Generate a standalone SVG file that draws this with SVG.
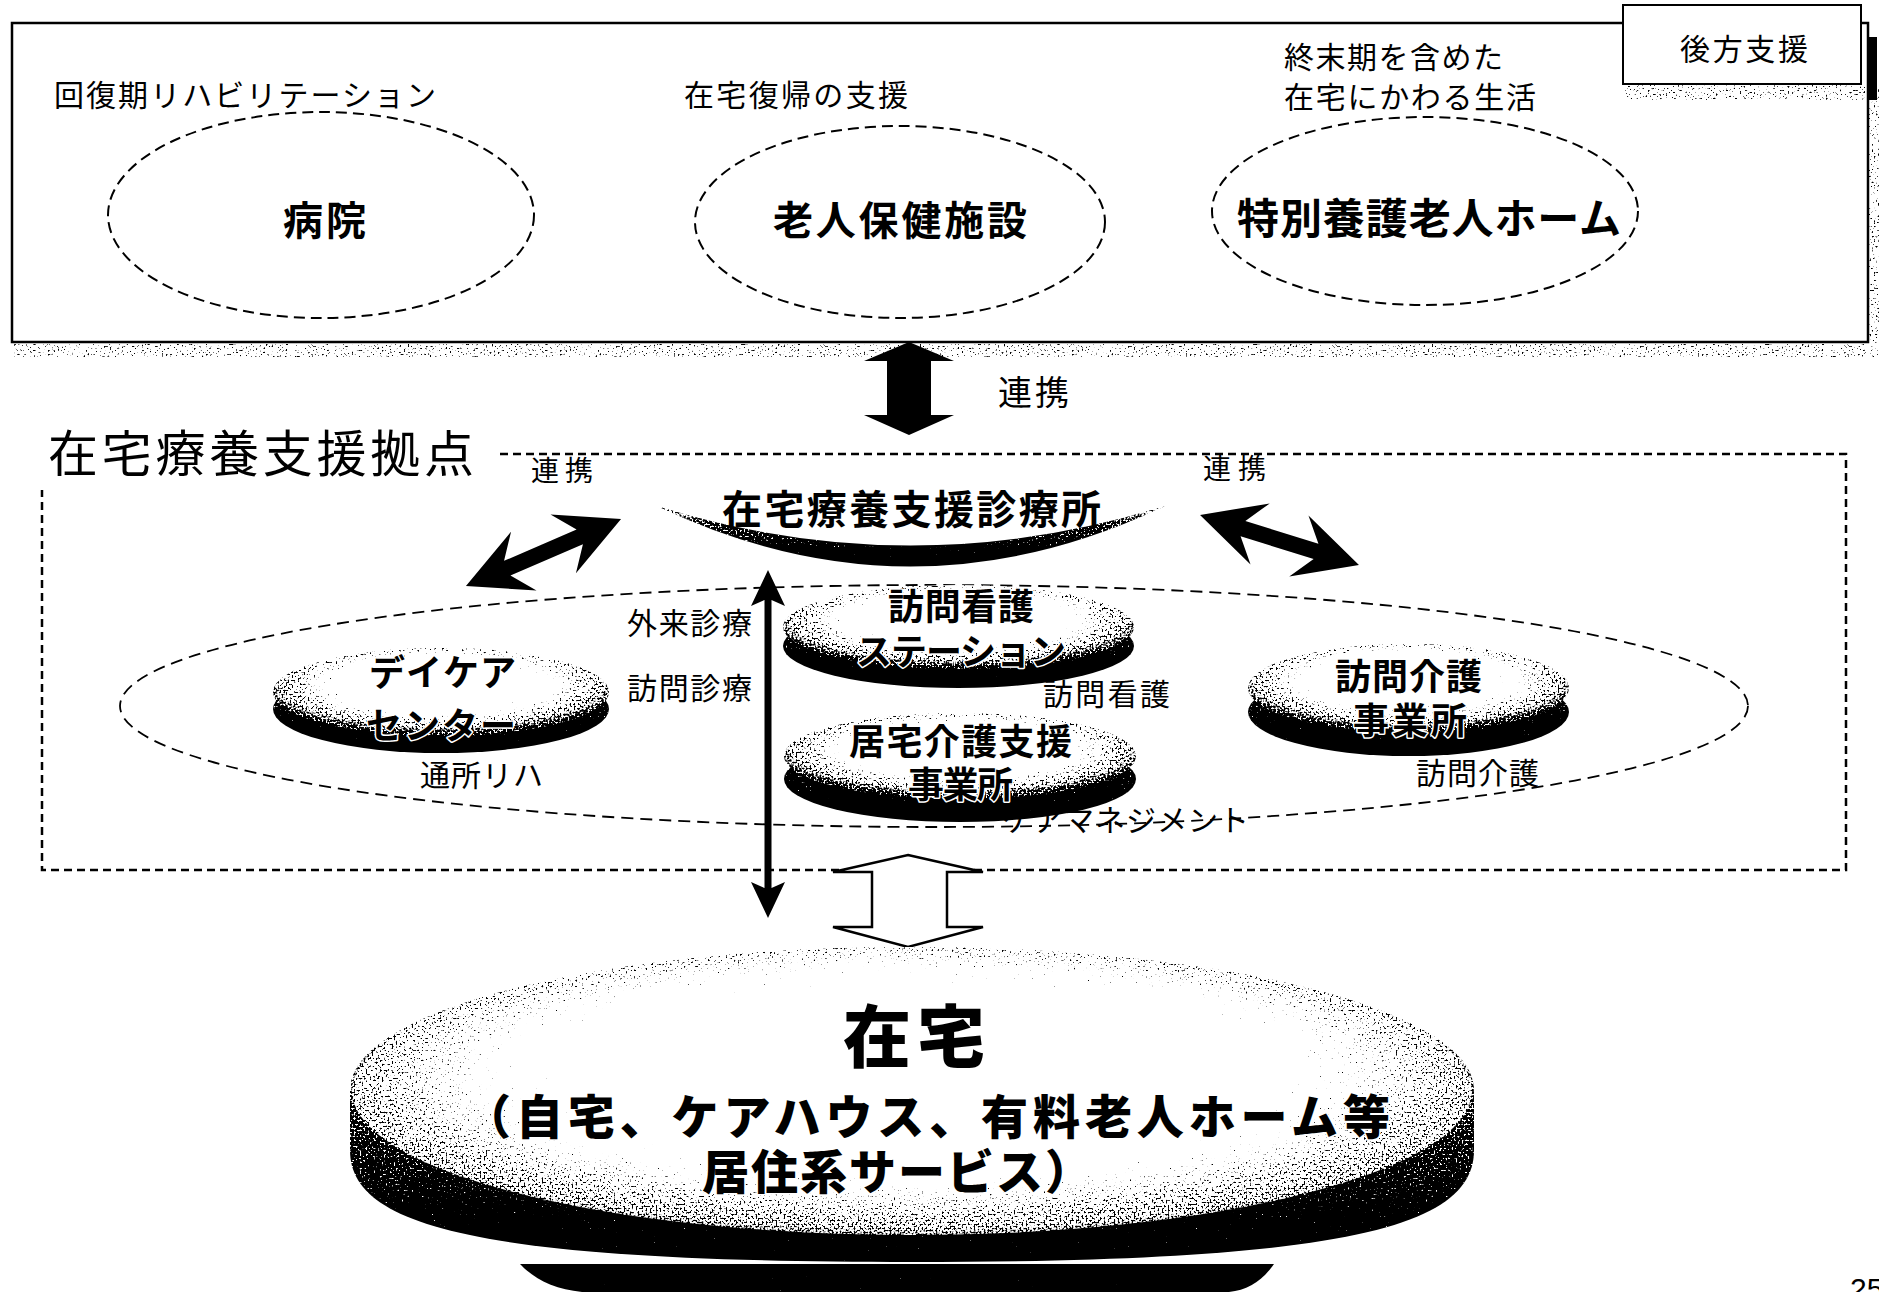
<svg xmlns="http://www.w3.org/2000/svg" width="1879" height="1292" viewBox="0 0 1879 1292">
<defs>
<style>
.t{font-family:"Noto Sans CJK JP","Noto Sans CJK SC",sans-serif;fill:#000}
.r{font-weight:400}
.b{font-weight:700}
.k{font-weight:900}
.halo{stroke:#fff;stroke-width:3;paint-order:stroke;stroke-linejoin:round}
.dash{fill:none;stroke:#000;stroke-width:2;stroke-dasharray:11 6}
.frame{fill:none;stroke:#000;stroke-width:2.5;stroke-dasharray:8 5}
.solid{fill:#000;stroke:none}
.shade{fill:#a5a5a5}
</style>
<filter id="speck" color-interpolation-filters="sRGB" x="-2%" y="-2%" width="104%" height="104%">
<feTurbulence type="fractalNoise" baseFrequency="0.5" numOctaves="2" seed="5" result="noise"/>
<feColorMatrix in="noise" type="matrix" values="1 0 0 0 0 1 0 0 0 0 1 0 0 0 0 0 0 0 0 1" result="n"/>
<feColorMatrix in="SourceGraphic" type="matrix" values="1 0 0 0 0 0 1 0 0 0 0 0 1 0 0 0 0 0 0 1" result="s"/>
<feComposite in="s" in2="n" operator="arithmetic" k1="0" k2="12" k3="-12" k4="1" result="th"/>
<feComposite in="th" in2="SourceAlpha" operator="in"/>
</filter>
<radialGradient id="pillTop" cx="0.5" cy="0.42" r="0.6">
<stop offset="0" stop-color="#fff"/>
<stop offset="0.35" stop-color="#f0f0f0"/>
<stop offset="0.7" stop-color="#9c9c9c"/>
<stop offset="1" stop-color="#4a4a4a"/>
</radialGradient>
<linearGradient id="pillSide" x1="0" y1="0" x2="0" y2="1">
<stop offset="0" stop-color="#666"/>
<stop offset="1" stop-color="#0a0a0a"/>
</linearGradient>
<linearGradient id="cres" x1="0" y1="0" x2="0" y2="1">
<stop offset="0" stop-color="#8a8a8a"/>
<stop offset="0.5" stop-color="#4a4a4a"/>
<stop offset="1" stop-color="#000"/>
</linearGradient>
<radialGradient id="discTop" cx="0.5" cy="0.45" r="0.58">
<stop offset="0" stop-color="#fff"/>
<stop offset="0.4" stop-color="#f2f2f2"/>
<stop offset="0.75" stop-color="#a8a8a8"/>
<stop offset="1" stop-color="#6a6a6a"/>
</radialGradient>
<linearGradient id="discSide" x1="0" y1="0" x2="0" y2="1">
<stop offset="0" stop-color="#a0a0a0"/>
<stop offset="0.5" stop-color="#6a6a6a"/>
<stop offset="1" stop-color="#151515"/>
</linearGradient>
</defs>
<rect width="1879" height="1292" fill="#fff"/>

<g id="backup-box">
<rect class="shade" x="14" y="344" width="1865" height="13" filter="url(#speck)"/>
<rect class="shade" x="1869" y="86" width="10" height="270" filter="url(#speck)"/>
<rect x="12" y="23" width="1856" height="319" fill="#fff" stroke="#000" stroke-width="2.5"/>
<rect x="1868" y="37" width="9" height="63" fill="#000"/>
<rect class="shade" x="1625" y="85" width="240" height="15" filter="url(#speck)"/>
<rect x="1623" y="5" width="238" height="79" fill="#fff" stroke="#000" stroke-width="2"/>
<text class="t r" x="1680" y="60" font-size="30" textLength="128">後方支援</text>
</g>

<g id="node-hospital">
<ellipse class="dash" cx="321" cy="215" rx="213" ry="103"/>
<text class="t r" x="54" y="106" font-size="30" textLength="382">回復期リハビリテーション</text>
<text class="t b" x="283" y="235" font-size="40" textLength="83">病院</text>
</g>
<g id="node-roken">
<ellipse class="dash" cx="900" cy="222" rx="205" ry="96"/>
<text class="t r" x="684" y="106" font-size="30" textLength="224">在宅復帰の支援</text>
<text class="t b" x="773" y="235" font-size="40" textLength="254">老人保健施設</text>
</g>
<g id="node-tokuyo">
<ellipse class="dash" cx="1425" cy="211" rx="213" ry="94"/>
<text class="t r" x="1284" y="68" font-size="30" textLength="219">終末期を含めた</text>
<text class="t r" x="1284" y="108" font-size="30" textLength="252">在宅にかわる生活</text>
<text class="t b" x="1237" y="234" font-size="42" textLength="384">特別養護老人ホーム</text>
</g>

<g id="node-kyoten">
<path class="frame" d="M500,454 H1846 V870 H42 V490"/>
<text class="t r" x="48" y="472" font-size="50" textLength="426">在宅療養支援拠点</text>
<ellipse fill="none" stroke="#000" stroke-width="1.8" stroke-dasharray="12 7" cx="934" cy="706" rx="814" ry="121"/>
</g>

<g id="node-clinic">
<path d="M657,506 Q910,627 1165,506 Q910,585 657,506 Z" fill="url(#cres)" filter="url(#speck)"/>
<text class="t b" x="722" y="524" font-size="40" textLength="379">在宅療養支援診療所</text>
</g>

<g id="node-daycare">
<ellipse cx="441" cy="709" rx="168" ry="44" fill="url(#pillSide)" filter="url(#speck)"/>
<ellipse cx="441" cy="692" rx="168" ry="44" fill="url(#pillTop)" filter="url(#speck)"/>
<text class="t b halo" x="369" y="686" font-size="36" textLength="147">デイケア</text>
<text class="t b halo" x="366" y="739" font-size="36" textLength="150">センター</text>
</g>

<g id="node-station">
<ellipse cx="958.5" cy="646" rx="175.5" ry="42" fill="url(#pillSide)" filter="url(#speck)"/>
<ellipse cx="958.5" cy="627" rx="175.5" ry="42" fill="url(#pillTop)" filter="url(#speck)"/>
<text class="t b halo" x="888" y="620" font-size="36" textLength="146">訪問看護</text>
<text class="t b halo" x="856" y="665" font-size="36" textLength="210">ステーション</text>
</g>

<g id="node-kyotaku">
<ellipse cx="960" cy="779" rx="176" ry="43" fill="url(#pillSide)" filter="url(#speck)"/>
<ellipse cx="960" cy="756" rx="176" ry="43" fill="url(#pillTop)" filter="url(#speck)"/>
<text class="t b halo" x="849" y="755" font-size="36" textLength="223">居宅介護支援</text>
<text class="t b halo" x="908" y="798" font-size="36" textLength="105">事業所</text>
</g>

<g id="node-homecare">
<ellipse cx="1408.5" cy="712" rx="160.5" ry="44" fill="url(#pillSide)" filter="url(#speck)"/>
<ellipse cx="1408.5" cy="688" rx="160.5" ry="44" fill="url(#pillTop)" filter="url(#speck)"/>
<text class="t b halo" x="1335" y="690" font-size="36" textLength="147">訪問介護</text>
<text class="t b halo" x="1353" y="734" font-size="36" textLength="114">事業所</text>
</g>

<g id="connectors">
<polygon class="solid" points="909,342 954,361 931,361 931,415 954,415 909,435 864,415 887,415 887,361 864,361"/>
<text class="t r" x="998" y="405" font-size="34" textLength="71">連携</text>
<polygon class="solid" transform="translate(543.5,552.5) rotate(-23.4)" points="84.5,0 21.5,-32 39.5,-8 -39.5,-8 -21.5,-32 -84.5,0 -21.5,32 -39.5,8 39.5,8 21.5,32"/>
<text class="t r" x="531" y="481" font-size="28" textLength="62">連携</text>
<polygon class="solid" transform="translate(1279.5,540) rotate(17.46)" points="83.3,0 20.3,-32 38.3,-8 -38.3,-8 -20.3,-32 -83.3,0 -20.3,32 -38.3,8 38.3,8 20.3,32"/>
<text class="t r" x="1203" y="479" font-size="28" textLength="63">連携</text>
<polygon class="solid" points="768,570 785,606 771.5,600 771.5,888 785,882 768,918 751,882 764.5,888 764.5,600 751,606"/>
<text class="t r" x="627" y="634" font-size="30" textLength="125">外来診療</text>
<text class="t r" x="627" y="699" font-size="30" textLength="125">訪問診療</text>
<text class="t r" x="420" y="786" font-size="30" textLength="123">通所リハ</text>
<text class="t r" x="1043" y="705" font-size="30" textLength="127">訪問看護</text>
<text class="t r" x="1002" y="831" font-size="30" textLength="247">ケアマネジメント</text>
<text class="t r" x="1416" y="784" font-size="30" textLength="123">訪問介護</text>
<polygon points="908,855 983,872 947,872 947,927 983,927 908,947 833,927 872,927 872,872 833,872" fill="#fff" stroke="#000" stroke-width="2.5"/>
</g>

<g id="node-home">
<path d="M520,1264 L1274,1264 C1262,1281 1248,1290 1229,1292 L582,1292 C555,1289 535,1280 520,1264 Z" fill="#1a1a1a" filter="url(#speck)"/>
<path d="M350,1090 C350,1010 600,947 912,947 C1224,947 1474,1010 1474,1090 L1474,1150 C1474,1225 1354,1262 912,1262 C470,1262 350,1225 350,1150 Z" fill="url(#discSide)" filter="url(#speck)"/>
<ellipse cx="912" cy="1091" rx="560" ry="144" fill="url(#discTop)" filter="url(#speck)"/>
<text class="t k halo" x="843" y="1062" font-size="68" textLength="142">在宅</text>
<text class="t k halo" x="464" y="1134" font-size="47" textLength="926">（自宅、ケアハウス、有料老人ホーム等</text>
<text class="t k halo" x="702" y="1189" font-size="47" textLength="390">居住系サービス）</text>
</g>

<text x="1850" y="1299" font-family="Liberation Sans, sans-serif" font-size="30" fill="#000">25</text>
</svg>
